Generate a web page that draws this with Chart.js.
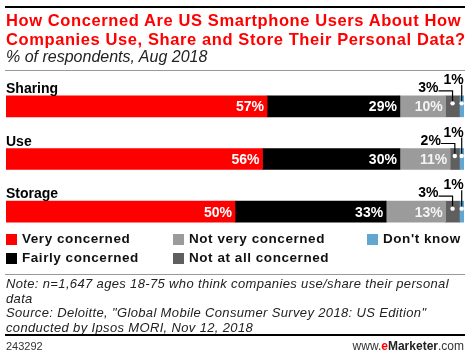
<!DOCTYPE html>
<html>
<head>
<meta charset="utf-8">
<script src="https://cdn.jsdelivr.net/npm/chart.js@4"></script>
<style>
  html, body { margin:0; padding:0; background:#fff; }
  #wrap { position:relative; width:470px; height:358px; overflow:hidden; font-family:"Liberation Sans", Arial, sans-serif; }
  #c { position:absolute; left:0; top:0; }
  .abs { position:absolute; white-space:nowrap; }
  .rule { position:absolute; left:5px; width:460px; }
  .title { left:6px; font-weight:bold; color:#ff0000; font-size:16.5px; line-height:19px; letter-spacing:0.6px; }
  .sub { left:6px; top:48px; font-style:italic; font-size:16px; color:#222; }
  .leg { font-weight:bold; font-size:13.5px; color:#111; letter-spacing:0.55px; }
  .sw { position:absolute; width:11px; height:11px; }
  .note { left:6px; font-style:italic; font-size:13px; color:#222; line-height:14.5px; letter-spacing:0.35px; }
</style>
</head>
<body>
<div id="wrap">
  <canvas id="c" width="470" height="358"></canvas>
  <div class="rule" style="top:6px;height:2px;background:#000"></div>
  <div class="abs title" style="top:11px">How Concerned Are US Smartphone Users About How</div>
  <div class="abs title" style="top:30px">Companies Use, Share and Store Their Personal Data?</div>
  <div class="abs sub">% of respondents, Aug 2018</div>
  <div class="rule" style="top:70px;height:1px;background:#999"></div>

  <div id="legend"></div>

  <div class="rule" style="top:274px;height:1px;background:#999"></div>
  <div class="abs note" style="top:277px">Note: n=1,647 ages 18-75 who think companies use/share their personal<br>data<br>Source: Deloitte, "Global Mobile Consumer Survey 2018: US Edition"<br>conducted by Ipsos MORI, Nov 12, 2018</div>
  <div class="rule" style="top:334px;height:2px;background:#000"></div>
  <div class="abs" style="left:6px;top:340px;font-size:11px;color:#333">243292</div>
  <div class="abs" style="right:6px;top:339px;font-size:12px;color:#333">www.<b style="color:#ff0000">e</b><b style="color:#222">Marketer</b>.com</div>
</div>
<script>
const categories = ["Sharing", "Use", "Storage"];
const seriesNames = ["Very concerned", "Fairly concerned", "Not very concerned", "Not at all concerned", "Don't know"];
const veryConcerned = [57, 56, 50];
const fairlyConcerned = [29, 30, 33];
const notVeryConcerned = [10, 11, 13];
const notAtAllConcerned = [3, 2, 3];
const dontKnow = [1, 1, 1];
const seriesColors = ["#ff0000", "#000000", "#9b9b9b", "#5f5f5f", "#62a7cf"];
const seriesValues = [veryConcerned, fairlyConcerned, notVeryConcerned, notAtAllConcerned, dontKnow];

// HTML legend
const legendPos = [[6,234],[6,253],[173,234],[173,253],[367,234]];
const legEl = document.getElementById('legend');
seriesNames.forEach((n,i)=>{
  const [x,y] = legendPos[i];
  const sw = document.createElement('div');
  sw.className='sw'; sw.style.left=x+'px'; sw.style.top=y+'px'; sw.style.background=seriesColors[i];
  legEl.appendChild(sw);
  const t = document.createElement('div');
  t.className='abs leg'; t.style.left=(x+16)+'px'; t.style.top=(y-3)+'px'; t.textContent=n;
  legEl.appendChild(t);
});

const labelPlugin = {
  id:'labels',
  afterDatasetsDraw(chart){
    const ctx = chart.ctx;
    ctx.save();
    const FONT = 'bold 14px "Liberation Sans", Arial, sans-serif';
    // category labels
    const m0 = chart.getDatasetMeta(0);
    m0.data.forEach((bar,j)=>{
      ctx.fillStyle='#000'; ctx.font=FONT; ctx.textAlign='left'; ctx.textBaseline='alphabetic';
      ctx.fillText(categories[j], chart.chartArea.left, bar.y - bar.height/2 - 3);
    });
    chart.data.datasets.forEach((ds,i)=>{
      const meta = chart.getDatasetMeta(i);
      meta.data.forEach((bar,j)=>{
        const v = ds.data[j];
        const top = bar.y - bar.height/2;
        if (i < 3) {
          ctx.fillStyle = i===2 ? '#f4f4f4' : '#fff';
          ctx.font = FONT; ctx.textAlign='right'; ctx.textBaseline='middle';
          ctx.fillText(v+'%', bar.x - 3, bar.y + 1);
        } else {
          const cx = (bar.x + bar.base)/2;
          const dy = bar.y - 3;
          ctx.strokeStyle='#000'; ctx.lineWidth=1.2;
          ctx.beginPath();
          if (i===3) {
            const ly = top - 5;
            ctx.moveTo(cx, dy); ctx.lineTo(cx, ly); ctx.lineTo(cx-14, ly);
            ctx.stroke();
            ctx.fillStyle='#000'; ctx.font=FONT; ctx.textAlign='right'; ctx.textBaseline='alphabetic';
            ctx.fillText(v+'%', cx-14, ly+1);
          } else {
            const ly = top - 11;
            ctx.moveTo(cx, dy); ctx.lineTo(cx, ly);
            ctx.stroke();
            ctx.fillStyle='#000'; ctx.font=FONT; ctx.textAlign='right'; ctx.textBaseline='alphabetic';
            ctx.fillText(v+'%', cx+2, ly-1);
          }
          ctx.fillStyle='#fff';
          ctx.beginPath(); ctx.arc(cx, dy, 2.2, 0, Math.PI*2); ctx.fill();
        }
      });
    });
    ctx.restore();
  }
};

new Chart(document.getElementById('c'), {
  type:'bar',
  data:{
    labels: categories,
    datasets: seriesNames.map((n,i)=>({
      label:n, data:seriesValues[i], backgroundColor:seriesColors[i],
      borderWidth:0, barThickness:21
    }))
  },
  options:{
    indexAxis:'y',
    responsive:false,
    animation:false,
    layout:{ padding:{ left:6, right:6, top:80, bottom:120 } },
    scales:{
      x:{ stacked:true, min:0, max:100, display:false },
      y:{ stacked:true, display:false }
    },
    plugins:{ legend:{display:false}, tooltip:{enabled:false} }
  },
  plugins:[labelPlugin]
});
</script>
</body>
</html>
